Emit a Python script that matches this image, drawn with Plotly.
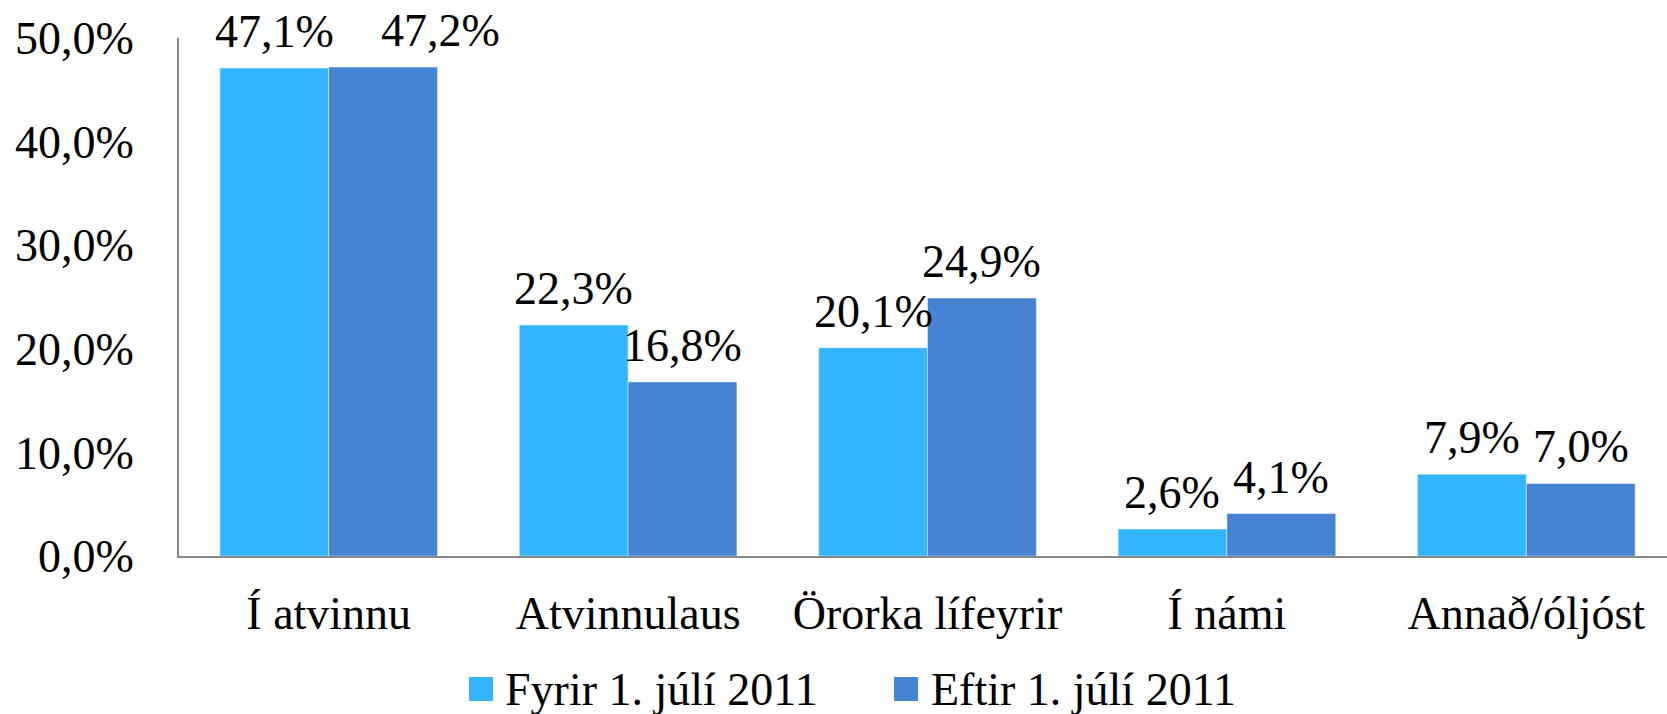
import plotly.graph_objects as go

categories = ["Í atvinnu", "Atvinnulaus", "Örorka lífeyrir", "Í námi", "Annað/óljóst"]
series_names = ["Fyrir 1. júlí 2011", "Eftir 1. júlí 2011"]
fyrir = [47.1, 22.3, 20.1, 2.6, 7.9]
eftir = [47.2, 16.8, 24.9, 4.1, 7.0]
y_tick_vals = [0, 10, 20, 30, 40, 50]
y_tick_text = ["0,0%", "10,0%", "20,0%", "30,0%", "40,0%", "50,0%"]

colors = ["#33B5FF", "#4684D2"]
FONT = "Liberation Serif"
FS = 46

W, H = 1667, 714
ML, MR, MT, MB = 179, 0, 38, 158
PW, PH = W - ML - MR, H - MT - MB
BARGAP = 0.273
cat_px = 299.4
x_max = -0.5 + PW / cat_px

def fmt(v):
    return f"{v:.1f}".replace(".", ",") + "%"

fig = go.Figure()
for name, vals, col in zip(series_names, [fyrir, eftir], colors):
    fig.add_trace(go.Bar(
        x=categories, y=vals, name=name,
        marker=dict(color=col, line=dict(color="rgba(255,255,255,0.45)", width=1)),
        showlegend=False, hoverinfo="skip",
    ))

half = (1 - BARGAP) / 4.0
label_xshift = {(1, 0): 57}
annotations = []
for s, vals in enumerate([fyrir, eftir]):
    off = -half if s == 0 else half
    for i, v in enumerate(vals):
        annotations.append(dict(
            x=i + off, y=v, xref="x", yref="y", text=fmt(v), showarrow=False,
            xanchor="center", yanchor="bottom", yshift=9,
            xshift=label_xshift.get((s, i), 0),
            font=dict(family=FONT, size=FS, color="black"),
        ))

# legend drawn manually (large squares)
def px2x(px):
    return (px - ML) / PW

def px2y(py):
    return (MT + PH - py) / PH

legend_sq = [(469, 493), (894, 918)]
legend_tx = [503, 929]
shapes = []
for (x0, x1), tx, name, col in zip(legend_sq, legend_tx, series_names, colors):
    shapes.append(dict(type="rect", xref="paper", yref="paper",
                       x0=px2x(x0), x1=px2x(x1), y0=px2y(701), y1=px2y(677),
                       fillcolor=col, line=dict(width=0)))
    annotations.append(dict(x=px2x(tx), y=px2y(689), xref="paper", yref="paper",
                            text=name, showarrow=False, xanchor="left", yanchor="middle",
                            font=dict(family=FONT, size=FS, color="black")))

fig.update_layout(
    width=W, height=H,
    margin=dict(l=ML, r=MR, t=MT, b=MB),
    paper_bgcolor="white", plot_bgcolor="white",
    barmode="group", bargap=BARGAP, bargroupgap=0,
    font=dict(family=FONT, size=FS, color="black"),
    annotations=annotations, shapes=shapes,
    showlegend=False,
)
fig.update_xaxes(
    range=[-0.5, x_max], showgrid=False, showline=True, linecolor="#888888", linewidth=2,
    ticks="", ticklabelstandoff=16, tickfont=dict(family=FONT, size=FS, color="black"),
    fixedrange=True,
)
fig.update_yaxes(
    range=[0, 50], showgrid=False, showline=True, linecolor="#888888", linewidth=2,
    tickvals=y_tick_vals, ticktext=y_tick_text, ticks="", ticklabelstandoff=34,
    tickfont=dict(family=FONT, size=FS, color="black"), zeroline=False, fixedrange=True,
)

fig.write_html("out.html", config={"displayModeBar": False},
               post_script="document.body.style.margin='0px';")
